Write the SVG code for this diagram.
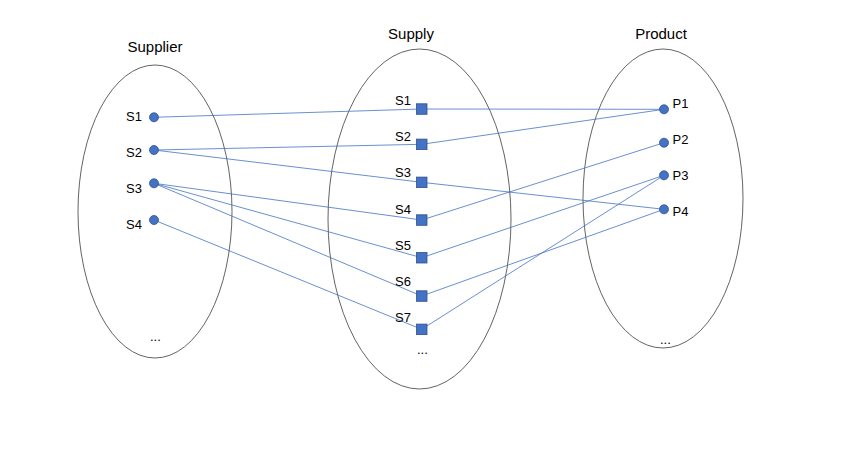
<svg xmlns="http://www.w3.org/2000/svg" width="849" height="468" viewBox="0 0 849 468">
<style>
.set{fill:none;stroke:#3b3b3b;stroke-width:0.8}
.lbl{font-family:"Liberation Sans",Arial,sans-serif;font-size:13px;fill:#000}
.ttl{font-family:"Liberation Sans",Arial,sans-serif;font-size:15px;fill:#000;text-anchor:middle}
.dot{fill:#4472C4;stroke:#2F528F;stroke-width:0.8}
.edge{stroke:#4472C4;stroke-width:0.8;fill:none}
</style>
<rect width="849" height="468" fill="#fff"/>
<g id="sets">
<ellipse class="set" cx="155" cy="211.5" rx="77" ry="146.5"/>
<ellipse class="set" cx="419.5" cy="219" rx="91.5" ry="170"/>
<ellipse class="set" cx="663" cy="198.5" rx="80" ry="149.5"/>
<text class="ttl" x="155" y="51.5">Supplier</text>
<text class="ttl" x="411" y="39">Supply</text>
<text class="ttl" x="661" y="39">Product</text>
<text class="lbl" x="150" y="341">...</text>
<text class="lbl" x="417" y="354">...</text>
<text class="lbl" x="660" y="344">...</text>
</g>
<g id="connectors">
<line class="edge" x1="154" y1="117.3" x2="421.7" y2="109"/>
<line class="edge" x1="421.7" y1="109" x2="664" y2="109.3"/>
<line class="edge" x1="154" y1="150" x2="421.7" y2="144.3"/>
<line class="edge" x1="421.7" y1="144.3" x2="664" y2="109.3"/>
<line class="edge" x1="154" y1="150" x2="421.7" y2="182.3"/>
<line class="edge" x1="421.7" y1="182.3" x2="664" y2="209.3"/>
<line class="edge" x1="154" y1="183.3" x2="421.7" y2="220"/>
<line class="edge" x1="154" y1="183.3" x2="421.7" y2="257.7"/>
<line class="edge" x1="154" y1="183.3" x2="421.7" y2="296"/>
<line class="edge" x1="421.7" y1="220" x2="664" y2="142.7"/>
<line class="edge" x1="421.7" y1="257.7" x2="664" y2="175.3"/>
<line class="edge" x1="421.7" y1="296" x2="664" y2="209.3"/>
<line class="edge" x1="154" y1="220" x2="421.7" y2="329.3"/>
<line class="edge" x1="421.7" y1="329.3" x2="664" y2="175.3"/>
</g>
<g id="supplier-S1"><circle class="dot" cx="154" cy="117.3" r="4.5"/><text class="lbl" x="126" y="120.5">S1</text></g>
<g id="supplier-S2"><circle class="dot" cx="154" cy="150" r="4.5"/><text class="lbl" x="126" y="156.5">S2</text></g>
<g id="supplier-S3"><circle class="dot" cx="154" cy="183.3" r="4.5"/><text class="lbl" x="126" y="193">S3</text></g>
<g id="supplier-S4"><circle class="dot" cx="154" cy="220" r="4.5"/><text class="lbl" x="126" y="229.3">S4</text></g>
<g id="supply-S1"><rect class="dot" x="416.5" y="103.8" width="10.5" height="10.5"/><text class="lbl" x="395" y="104.5">S1</text></g>
<g id="supply-S2"><rect class="dot" x="416.5" y="139.1" width="10.5" height="10.5"/><text class="lbl" x="395" y="141.3">S2</text></g>
<g id="supply-S3"><rect class="dot" x="416.5" y="177.1" width="10.5" height="10.5"/><text class="lbl" x="395" y="177.3">S3</text></g>
<g id="supply-S4"><rect class="dot" x="416.5" y="214.8" width="10.5" height="10.5"/><text class="lbl" x="395" y="214">S4</text></g>
<g id="supply-S5"><rect class="dot" x="416.5" y="252.5" width="10.5" height="10.5"/><text class="lbl" x="395" y="250">S5</text></g>
<g id="supply-S6"><rect class="dot" x="416.5" y="290.8" width="10.5" height="10.5"/><text class="lbl" x="395" y="286">S6</text></g>
<g id="supply-S7"><rect class="dot" x="416.5" y="324.1" width="10.5" height="10.5"/><text class="lbl" x="395" y="322">S7</text></g>
<g id="product-P1"><circle class="dot" cx="664" cy="109.3" r="4.5"/><text class="lbl" x="672.5" y="107.5">P1</text></g>
<g id="product-P2"><circle class="dot" cx="664" cy="142.7" r="4.5"/><text class="lbl" x="672.5" y="144">P2</text></g>
<g id="product-P3"><circle class="dot" cx="664" cy="175.3" r="4.5"/><text class="lbl" x="672.5" y="180">P3</text></g>
<g id="product-P4"><circle class="dot" cx="664" cy="209.3" r="4.5"/><text class="lbl" x="672.5" y="216">P4</text></g>
</svg>
